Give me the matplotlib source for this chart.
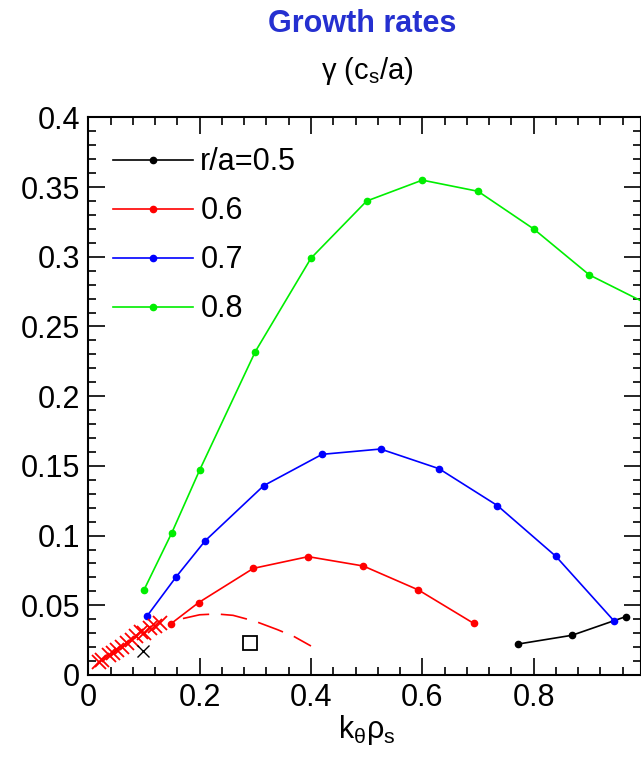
import matplotlib
matplotlib.use("Agg")
import matplotlib.pyplot as plt
from matplotlib.ticker import MultipleLocator

plt.rcParams['font.family'] = ['Liberation Sans', 'DejaVu Sans']
plt.rcParams['mathtext.fontset'] = 'custom'
plt.rcParams['mathtext.rm'] = 'Liberation Sans'
plt.rcParams['mathtext.it'] = 'Liberation Sans'

# growth rate scans for each radius
k_05 = [0.772, 0.869, 0.965]
g_05 = [0.0222, 0.0285, 0.0418]

k_06 = [0.1486, 0.198, 0.2965, 0.395, 0.494, 0.593, 0.692]
g_06 = [0.0368, 0.0519, 0.0765, 0.0849, 0.0782, 0.061, 0.0371]

k_07 = [0.105, 0.158, 0.210, 0.315, 0.420, 0.525, 0.630, 0.735, 0.840, 0.945]
g_07 = [0.042, 0.0705, 0.0963, 0.1358, 0.1583, 0.1621, 0.148, 0.1215, 0.0851, 0.0385]

k_08 = [0.1, 0.15, 0.2, 0.3, 0.4, 0.5, 0.6, 0.7, 0.8, 0.9, 1.0]
g_08 = [0.061, 0.102, 0.147, 0.232, 0.299, 0.340, 0.355, 0.347, 0.320, 0.287, 0.267]

# dashed red curve
k_dash = [0.17, 0.20, 0.23, 0.26, 0.30, 0.34, 0.37, 0.40]
g_dash = [0.0405, 0.0432, 0.0438, 0.0428, 0.0385, 0.0325, 0.0275, 0.0208]

# red crosses at low k
k_cross = [0.020, 0.025, 0.038, 0.045, 0.052, 0.060, 0.070, 0.078, 0.086, 0.095, 0.100, 0.110, 0.120, 0.128]
g_cross = [0.009, 0.011, 0.014, 0.016, 0.018, 0.020, 0.023, 0.025, 0.028, 0.031, 0.030, 0.034, 0.035, 0.037]

# single markers
k_bx, g_bx = [0.0977], [0.0172]
k_sq, g_sq = [0.2905], [0.0227]

fig = plt.figure(figsize=(6.41, 7.58), dpi=100)
ax = fig.add_axes([88.3 / 641, 83 / 758, (641 - 88.3) / 641, (675 - 117.4) / 758])

ax.plot(k_05, g_05, color='black', lw=1.2, marker='o', ms=4.5, label='r/a=0.5')
ax.plot(k_06, g_06, color='red', lw=1.2, marker='o', ms=4.5, label='0.6')
ax.plot(k_07, g_07, color='blue', lw=1.2, marker='o', ms=4.5, label='0.7')
ax.plot(k_08, g_08, color='#00ee00', lw=1.2, marker='o', ms=4.5, label='0.8')

ax.plot(k_dash, g_dash, color='red', lw=1.2, dashes=(16, 7))
ax.plot(k_cross, g_cross, ls='none', marker='x', ms=10, mew=1.3, color='red')
ax.plot(k_bx, g_bx, ls='none', marker='x', ms=9, mew=1.0, color='black')
ax.plot(k_sq, g_sq, ls='none', marker='s', ms=10, mfc='none', mec='black', mew=1.3)

ax.set_xlim(0, (641 - 88.3) / 556.7)
ax.set_ylim(0, 0.4)
ax.xaxis.set_minor_locator(MultipleLocator(0.04))
ax.yaxis.set_minor_locator(MultipleLocator(0.01))
ax.set_xticks([0, 0.2, 0.4, 0.6, 0.8])
ax.set_xticklabels(['0', '0.2', '0.4', '0.6', '0.8'])
ax.set_yticks([0, 0.05, 0.1, 0.15, 0.2, 0.25, 0.3, 0.35, 0.4])
ax.set_yticklabels(['0', '0.05', '0.1', '0.15', '0.2', '0.25', '0.3', '0.35', '0.4'])
ax.tick_params(which='both', direction='in', top=True, right=True, labelsize=22, width=1.2)
ax.tick_params(which='major', length=12, pad=6)
ax.tick_params(which='minor', length=6)
for s in ax.spines.values():
    s.set_linewidth(1.5)

leg = ax.legend(loc='upper left', bbox_to_anchor=(0.023, 0.968), frameon=False, fontsize=22,
                handlelength=2.6, handletextpad=0.25, labelspacing=0.62, borderaxespad=0)

fig.text(362 / 641, 1 - 24 / 758, 'Growth rates', color='#2530d0', fontsize=22,
         fontweight='bold', ha='center', va='center')
fig.text(367 / 641, 1 - 71 / 758, r'$\mathregular{\gamma\ (c_s/a)}$', fontsize=21,
         ha='center', va='center')
fig.text(367 / 641, 1 - 730 / 758, r'$\mathregular{k_{\theta}\rho_s}$', fontsize=22,
         ha='center', va='center')

fig.savefig('out.png', dpi=100)
